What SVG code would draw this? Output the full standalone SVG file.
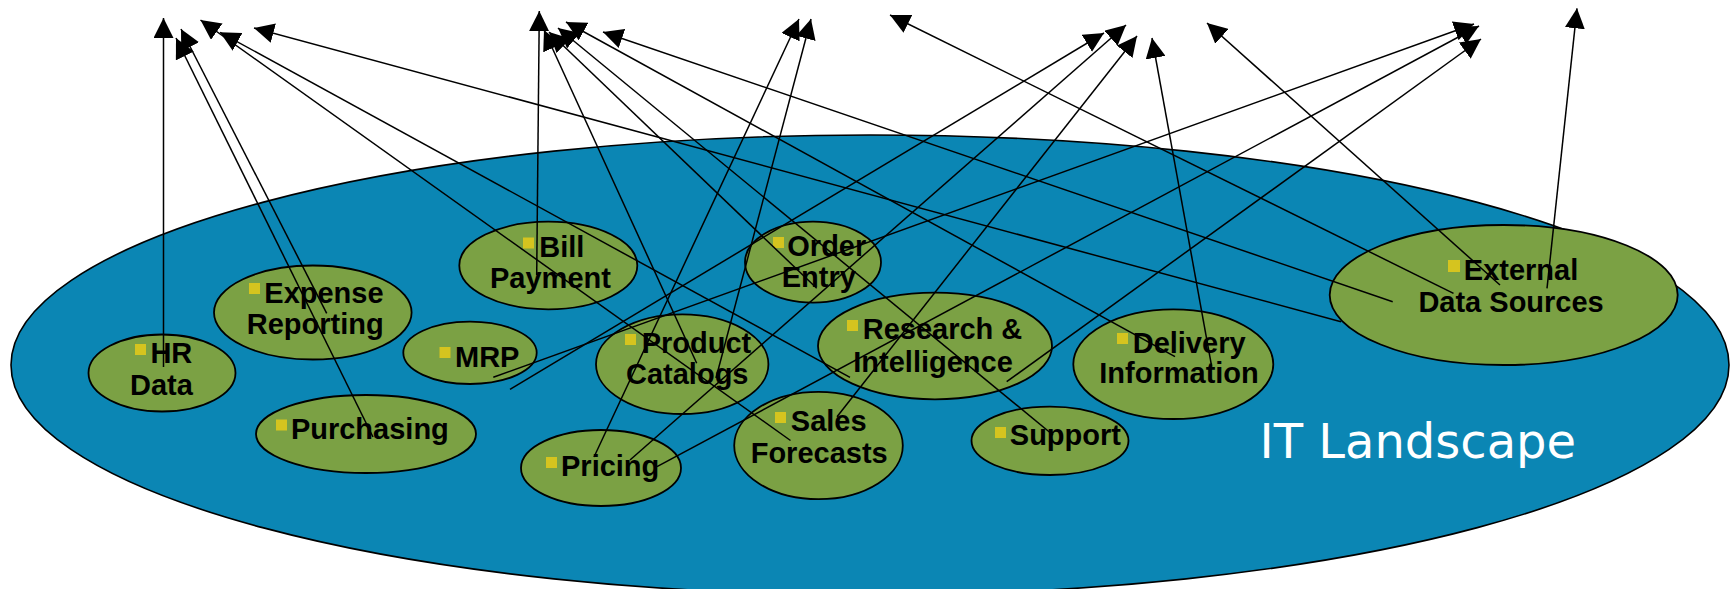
<svg xmlns="http://www.w3.org/2000/svg" width="1733" height="589" viewBox="0 0 1733 589">
<defs>
<marker id="ah" markerUnits="userSpaceOnUse" markerWidth="21" markerHeight="20" refX="20" refY="10" orient="auto" viewBox="0 0 21 20">
<path d="M0,0 L20,10 L0,20 z" fill="#000"/>
</marker>
</defs>
<style>
.bg{fill:#0b86b4;stroke:#000;stroke-width:1.6}
.n{fill:#7ba144;stroke:#000;stroke-width:1.8}
.b{fill:#d5c41f}
.t{font-family:"Liberation Sans",Arial,sans-serif;font-weight:bold;font-size:29px;fill:#000}
.c line{stroke:#000;stroke-width:1.5;fill:none;marker-end:url(#ah)}
</style>
<rect width="1733" height="589" fill="#fff"/>
<g id="it-landscape">
<ellipse class="bg" cx="870" cy="365" rx="859" ry="230"/>
<text x="1259.5" y="458" font-family="DejaVu Sans,Verdana,sans-serif" font-size="48" fill="#fff">IT Landscape</text>
</g>
<g id="hr-data">
<ellipse class="n" cx="162" cy="373" rx="73.5" ry="38.5"/>
<rect class="b" x="135" y="344" width="11" height="11"/>
<text class="t" x="150.4" y="363.3">HR</text>
<text class="t" x="130" y="395">Data</text>
</g>
<g id="expense-reporting">
<ellipse class="n" cx="312.8" cy="312.5" rx="98.8" ry="47"/>
<rect class="b" x="249" y="283" width="11" height="11"/>
<text class="t" x="264.3" y="302.7">Expense</text>
<text class="t" x="246.7" y="333.5">Reporting</text>
</g>
<g id="purchasing">
<ellipse class="n" cx="366" cy="434" rx="110" ry="39"/>
<rect class="b" x="276" y="419.5" width="11" height="11"/>
<text class="t" x="290.9" y="439.3">Purchasing</text>
</g>
<g id="bill-payment">
<ellipse class="n" cx="548.3" cy="265.5" rx="89" ry="43.8"/>
<rect class="b" x="523" y="237.5" width="11" height="11"/>
<text class="t" x="539.3" y="257.3">Bill</text>
<text class="t" x="490" y="288.3">Payment</text>
</g>
<g id="mrp">
<ellipse class="n" cx="470" cy="352.8" rx="66.7" ry="31.2"/>
<rect class="b" x="439.5" y="347" width="11" height="11"/>
<text class="t" x="455" y="366.7">MRP</text>
</g>
<g id="product-catalogs">
<ellipse class="n" cx="682.2" cy="364.2" rx="86.2" ry="49.8"/>
<rect class="b" x="625" y="334" width="11" height="11"/>
<text class="t" x="641.7" y="353.3">Product</text>
<text class="t" x="626" y="384">Catalogs</text>
</g>
<g id="pricing">
<ellipse class="n" cx="601" cy="468" rx="80" ry="38"/>
<rect class="b" x="546" y="457" width="11" height="11"/>
<text class="t" x="561" y="476">Pricing</text>
</g>
<g id="order-entry">
<ellipse class="n" cx="813" cy="262.2" rx="68" ry="40.5"/>
<rect class="b" x="773" y="237" width="11" height="11"/>
<text class="t" x="787.3" y="256">Order</text>
<text class="t" x="781.7" y="287.3">Entry</text>
</g>
<g id="sales-forecasts">
<ellipse class="n" cx="818.5" cy="445.5" rx="84.3" ry="53.7"/>
<rect class="b" x="775" y="412" width="11" height="11"/>
<text class="t" x="790.8" y="430.7">Sales</text>
<text class="t" x="750.7" y="463.3">Forecasts</text>
</g>
<g id="research-intelligence">
<ellipse class="n" cx="935" cy="346" rx="117" ry="53.3"/>
<rect class="b" x="847" y="320" width="11" height="11"/>
<text class="t" x="862.7" y="339.3">Research &amp;</text>
<text class="t" x="853.3" y="371.7">Intelligence</text>
</g>
<g id="support">
<ellipse class="n" cx="1050" cy="440.8" rx="78.5" ry="34.2"/>
<rect class="b" x="995" y="427" width="11" height="11"/>
<text class="t" x="1009.8" y="445">Support</text>
</g>
<g id="delivery-information">
<ellipse class="n" cx="1173.3" cy="364.2" rx="100" ry="54.8"/>
<rect class="b" x="1117" y="333" width="11" height="11"/>
<text class="t" x="1132.7" y="352.7">Delivery</text>
<text class="t" x="1099.3" y="382.7">Information</text>
</g>
<g id="external-data-sources">
<ellipse class="n" cx="1503.7" cy="295" rx="174" ry="70"/>
<rect class="b" x="1448" y="260" width="12" height="12"/>
<text class="t" x="1463.8" y="280">External</text>
<text class="t" x="1418.4" y="311.7">Data Sources</text>
</g>
<g id="connectors" class="c">
<line x1="163.5" y1="367" x2="163.5" y2="18"/>
<line x1="326.7" y1="313.3" x2="181" y2="29"/>
<line x1="373" y1="437" x2="176" y2="38"/>
<line x1="790.5" y1="440.5" x2="200.5" y2="20"/>
<line x1="850" y1="377.3" x2="220" y2="32.3"/>
<line x1="1341" y1="321.7" x2="254" y2="28"/>
<line x1="536.7" y1="275" x2="539.3" y2="11"/>
<line x1="696.7" y1="363.3" x2="544" y2="30"/>
<line x1="816.7" y1="288.3" x2="549" y2="32"/>
<line x1="1053" y1="435" x2="558" y2="28"/>
<line x1="1175" y1="356.7" x2="566" y2="22"/>
<line x1="1392.7" y1="301.7" x2="603" y2="32"/>
<line x1="594" y1="457" x2="799" y2="19"/>
<line x1="716" y1="378" x2="811" y2="19"/>
<line x1="1453.5" y1="293.3" x2="890" y2="15"/>
<line x1="510" y1="389.3" x2="1104" y2="33"/>
<line x1="630" y1="460" x2="1126" y2="25"/>
<line x1="837" y1="416.7" x2="1137" y2="36"/>
<line x1="1211.7" y1="366.7" x2="1152" y2="38"/>
<line x1="1500" y1="285" x2="1207" y2="23"/>
<line x1="493.3" y1="377.3" x2="1474" y2="24"/>
<line x1="657" y1="466.7" x2="1479" y2="26"/>
<line x1="1006.7" y1="381.7" x2="1481" y2="39"/>
<line x1="1547" y1="288.3" x2="1577" y2="8.3"/>
</g>
</svg>
